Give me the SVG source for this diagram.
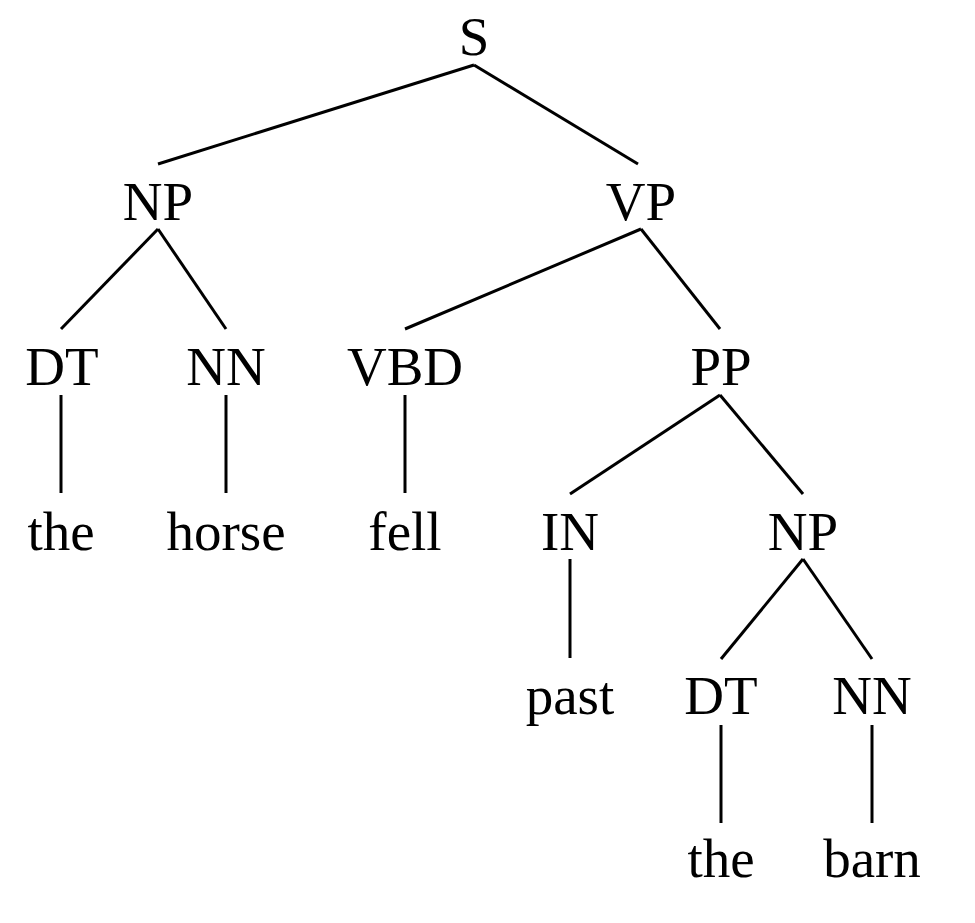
<svg xmlns="http://www.w3.org/2000/svg" width="975" height="923" viewBox="0 0 975 923">
<style>
text{font-family:"Liberation Serif","Times New Roman",serif;font-size:55px;fill:#000;text-anchor:middle}
.e{stroke:#000;stroke-width:3;fill:none;stroke-linecap:butt}
</style>
<rect width="975" height="923" fill="#fff"/>
<g id="edges">
<line class="e" x1="474" y1="65" x2="158" y2="164"/>
<line class="e" x1="474" y1="65" x2="638" y2="164"/>
<line class="e" x1="158" y1="229" x2="61" y2="329"/>
<line class="e" x1="158" y1="229" x2="226" y2="329"/>
<line class="e" x1="641" y1="229" x2="405" y2="329"/>
<line class="e" x1="641" y1="229" x2="720" y2="329"/>
<line class="e" x1="61" y1="395" x2="61" y2="493"/>
<line class="e" x1="226" y1="395" x2="226" y2="493"/>
<line class="e" x1="405" y1="395" x2="405" y2="493"/>
<line class="e" x1="720" y1="395" x2="570" y2="494"/>
<line class="e" x1="720" y1="395" x2="803" y2="494"/>
<line class="e" x1="570" y1="559" x2="570" y2="658"/>
<line class="e" x1="803" y1="559" x2="721" y2="659"/>
<line class="e" x1="803" y1="559" x2="872" y2="659"/>
<line class="e" x1="721" y1="725" x2="721" y2="823"/>
<line class="e" x1="872" y1="725" x2="872" y2="823"/>
</g>
<g id="n-S"><text x="474" y="55">S</text></g>
<g id="n-NP1"><text x="158" y="220">NP</text></g>
<g id="n-VP"><text x="641" y="220">VP</text></g>
<g id="n-DT1"><text x="62" y="385">DT</text></g>
<g id="n-NN1"><text x="226" y="385">NN</text></g>
<g id="n-VBD"><text x="405" y="385">VBD</text></g>
<g id="n-PP"><text x="721" y="385">PP</text></g>
<g id="w-the1"><text x="61" y="550">the</text></g>
<g id="w-horse"><text x="226" y="550">horse</text></g>
<g id="w-fell"><text x="405" y="550">fell</text></g>
<g id="n-IN"><text x="570" y="550">IN</text></g>
<g id="n-NP2"><text x="803" y="550">NP</text></g>
<g id="w-past"><text x="570" y="714">past</text></g>
<g id="n-DT2"><text x="721" y="714">DT</text></g>
<g id="n-NN2"><text x="872" y="714">NN</text></g>
<g id="w-the2"><text x="721" y="877">the</text></g>
<g id="w-barn"><text x="872" y="877">barn</text></g>
</svg>
